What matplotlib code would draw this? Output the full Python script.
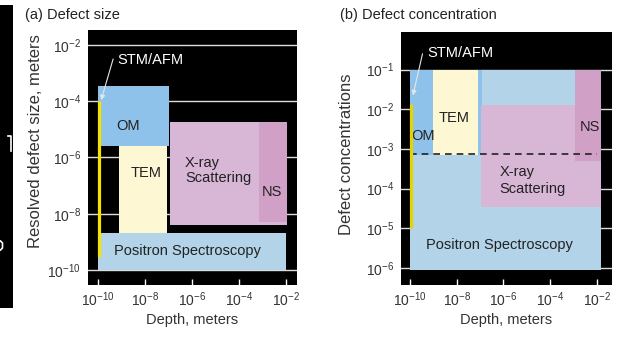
import matplotlib
matplotlib.use("Agg")
import matplotlib.pyplot as plt

plt.rcParams['font.family'] = ['Liberation Sans', 'DejaVu Sans']
plt.rcParams['mathtext.fontset'] = 'custom'
plt.rcParams['mathtext.rm'] = 'Liberation Sans'
plt.rcParams['mathtext.it'] = 'Liberation Sans:italic'
plt.rcParams['mathtext.default'] = 'regular'

# --- data ---
# (a) defect size: x = depth range, y = resolved defect size range
size_names = ["Positron Spectroscopy", "OM", "TEM", "X-ray\nScattering", "NS"]
size_x0 = [1e-10, 1e-10, 8e-10, 1.15e-7, 7e-4]
size_x1 = [1e-2, 1e-7, 8.5e-8, 1.1e-2, 1.1e-2]
size_y0 = [1e-10, 2.6e-6, 2e-9, 4e-9, 5e-9]
size_y1 = [2e-9, 3.5e-4, 2.6e-6, 1.9e-5, 1.9e-5]
size_lab_x = [6.3e-7, 1.9e-9, 1.1e-8, 5e-7, 2.5e-3]
size_lab_y = [4.7e-10, 1.3e-5, 2.8e-7, 3.5e-7, 6e-8]
stm_size = [1.1e-10, 3e-10, 1e-4]   # x, y bottom, y top

# (b) defect concentration
conc_names = ["Positron Spectroscopy", "OM", "TEM", "X-ray\nScattering", "NS"]
conc_x0 = [1e-10, 1e-10, 9.5e-10, 1.05e-7, 1.2e-3]
conc_x1 = [1.55e-2, 1.2e-7, 8e-8, 1.55e-2, 1.55e-2]
conc_y0 = [9e-7, 7e-4, 7e-4, 3.4e-5, 4.9e-4]
conc_y1 = [1e-1, 1e-1, 1e-1, 1.3e-2, 1e-1]
conc_lab_x = [7e-7, 3.5e-10, 7.6e-9, 7e-7, 4.9e-3]
conc_lab_y = [3.8e-6, 2.1e-3, 5.9e-3, 1.6e-4, 3.5e-3]
stm_conc = [1.15e-10, 1e-5, 1.4e-2]
dash_y = 7.6e-4

colors = ['#b2d3e8', '#8fc2ea', '#fdf8d3', '#d8b6d6', '#d1a0c7']

fig = plt.figure(figsize=(6.23, 3.38), dpi=100)
W, H = 623, 338


def px_axes(x0, y0, x1, y1):
    return fig.add_axes([x0 / W, 1 - y1 / H, (x1 - x0) / W, (y1 - y0) / H])


def setup(ax, xlim, ylim, yticks):
    ax.set_facecolor('black')
    ax.set_xscale('log')
    ax.set_yscale('log')
    ax.set_xlim(*xlim)
    ax.set_ylim(*ylim)
    ax.set_xticks([1e-10, 1e-8, 1e-6, 1e-4, 1e-2])
    ax.set_xticks([], minor=True)
    ax.set_yticks(yticks)
    ax.set_yticks([], minor=True)
    ax.tick_params(axis='x', direction='in', color='white', length=4, width=1,
                   labelsize=10, labelcolor='#333333', pad=4)
    ax.tick_params(axis='y', length=0, labelsize=10, labelcolor='#333333', pad=5)
    for s in ax.spines.values():
        s.set_visible(False)
    ax.set_axisbelow(True)
    ax.grid(axis='y', color='#dddddd', lw=1)
    ax.grid(axis='x', visible=False)
    ax.set_xlabel('Depth, meters', fontsize=10.5, color='#333333', labelpad=3)


# ---- (a) ----
ax1 = px_axes(88, 30, 297, 285)
setup(ax1, (10 ** -10.43, 10 ** -1.53), (10 ** -10.53, 10 ** -1.47),
      [1e-10, 1e-8, 1e-6, 1e-4, 1e-2])
for i in range(len(size_names)):
    ax1.fill_between([size_x0[i], size_x1[i]], size_y0[i], size_y1[i],
                     color=colors[i], lw=0, zorder=1)
    ax1.text(size_lab_x[i], size_lab_y[i], size_names[i], fontsize=10.5,
             color='#222222', ha='left' if i == 3 else 'center', va='center',
             linespacing=1.05, zorder=3)
ax1.plot([stm_size[0], stm_size[0]], [stm_size[1], stm_size[2]],
         color='#f6e400', lw=2.3, solid_capstyle='butt', zorder=4)
ax1.text(6.5e-10, 10 ** -2.53, 'STM/AFM', fontsize=10.5, color='white',
         ha='left', va='center', zorder=5)
ax1.annotate('', xy=(10 ** -9.87, 10 ** -3.96), xytext=(10 ** -9.36, 10 ** -2.5),
             arrowprops=dict(arrowstyle='-|>', color='#e6e6e6', lw=0.8,
                             mutation_scale=7, shrinkA=0, shrinkB=0), zorder=5)

# ---- (b) ----
ax2 = px_axes(401, 32, 612, 285)
setup(ax2, (10 ** -10.38, 10 ** -1.36), (10 ** -6.43, 10 ** -0.05),
      [1e-6, 1e-5, 1e-4, 1e-3, 1e-2, 1e-1])
for i in range(len(conc_names)):
    ax2.fill_between([conc_x0[i], conc_x1[i]], conc_y0[i], conc_y1[i],
                     color=colors[i], lw=0, zorder=1)
    ax2.text(conc_lab_x[i], conc_lab_y[i], conc_names[i], fontsize=10.5,
             color='#222222', ha='left' if i == 3 else 'center', va='center',
             linespacing=1.25, zorder=3)
ax2.plot([1e-10, 1e-2], [dash_y, dash_y], color='#222222', lw=1.2,
         dashes=(4, 3), zorder=3)
ax2.plot([stm_conc[0], stm_conc[0]], [stm_conc[1], stm_conc[2]],
         color='#e6d400', lw=2.3, solid_capstyle='butt', zorder=4)
ax2.text(10 ** -9.27, 10 ** -0.57, 'STM/AFM', fontsize=10.5, color='white',
         ha='left', va='center', zorder=5)
ax2.annotate('', xy=(10 ** -9.87, 10 ** -1.65), xytext=(10 ** -9.46, 10 ** -0.6),
             arrowprops=dict(arrowstyle='-|>', color='#e6e6e6', lw=0.8,
                             mutation_scale=7, shrinkA=0, shrinkB=0), zorder=5)

# titles and y labels
fig.text(25 / W, 1 - 15 / H, '(a) Defect size', fontsize=10.5, color='#222222',
         ha='left', va='center')
fig.text(340 / W, 1 - 15 / H, '(b) Defect concentration', fontsize=10.5,
         color='#222222', ha='left', va='center')
fig.text(36 / W, 1 - 141 / H, 'Resolved defect size, meters', fontsize=12,
         color='#333333', rotation=90, ha='center', va='center')
fig.text(346.5 / W, 1 - 154 / H, 'Defect concentrations', fontsize=12,
         color='#333333', rotation=90, ha='center', va='center')

# black strip at the left edge (cropped neighbour figure)
strip = px_axes(0, 5, 12.7, 308)
strip.set_facecolor('black')
strip.set_xticks([])
strip.set_yticks([])
for s in strip.spines.values():
    s.set_visible(False)
strip.set_xlim(0, 12.7)
strip.set_ylim(308, 5)
strip.plot([8, 11.5, 11.5], [136, 136, 151], color='white', lw=1.2)
strip.plot([0.5, 2.5, 2.5, 0.5], [241, 243, 248, 250], color='white', lw=1.2)

fig.savefig('out.png', dpi=100, facecolor='white')
